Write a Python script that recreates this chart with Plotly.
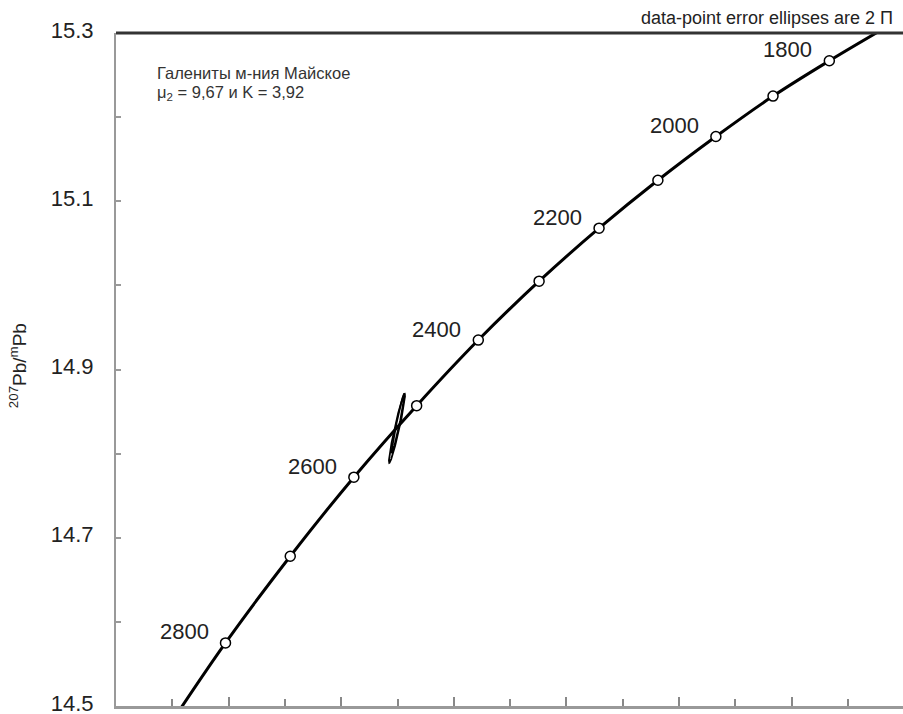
import numpy as np
import plotly.graph_objects as go

# Growth-curve nodes (model age, Ma) with 206Pb/204Pb and 207Pb/204Pb
curve_age = [1700, 1800, 1900, 2000, 2100, 2200, 2300, 2400, 2500, 2600, 2700, 2800, 2900]
curve_x = [15.731, 15.534, 15.334, 15.131, 14.925, 14.716, 14.503, 14.287, 14.068, 13.845, 13.619, 13.389, 13.156]
curve_y = [15.306, 15.267, 15.225, 15.177, 15.125, 15.068, 15.005, 14.935, 14.857, 14.772, 14.678, 14.575, 14.460]

# Tick marks on the curve (circles)
node_age = [1800, 1900, 2000, 2100, 2200, 2300, 2400, 2500, 2600, 2700, 2800]
node_x = [15.534, 15.334, 15.131, 14.925, 14.716, 14.503, 14.287, 14.068, 13.845, 13.619, 13.389]
node_y = [15.267, 15.225, 15.177, 15.125, 15.068, 15.005, 14.935, 14.857, 14.772, 14.678, 14.575]

# Labelled ages
label_age = [1800, 2000, 2200, 2400, 2600, 2800]
label_x = [15.534, 15.131, 14.716, 14.287, 13.845, 13.389]
label_y = [15.267, 15.177, 15.068, 14.935, 14.772, 14.575]

# Data-point error ellipses: centre x, centre y, sigma x, sigma y, rho
ell_cx = [13.998, 14.002]
ell_cy = [14.830, 14.836]
ell_sx = [0.0285, 0.0230]
ell_sy = [0.0410, 0.0355]
ell_rho = [0.955, 0.970]

y_ticks = [14.5, 14.7, 14.9, 15.1, 15.3]
y_ticktext = ["14.5", "14.7", "14.9", "15.1", "15.3"]

note_lines = ["Галениты м-ния Майское", "μ<sub>2</sub> = 9,67 и K = 3,92"]

FONT = "Liberation Sans, Arial, sans-serif"

fig = go.Figure()

fig.add_trace(go.Scatter(x=curve_x, y=curve_y, mode="lines",
                         line=dict(color="black", width=3, shape="spline"),
                         hoverinfo="skip", showlegend=False))

theta = np.linspace(0, 2 * np.pi, 200)
for cx, cy, sx, sy, r in zip(ell_cx, ell_cy, ell_sx, ell_sy, ell_rho):
    ex = cx + sx * np.cos(theta)
    ey = cy + sy * (r * np.cos(theta) + np.sqrt(1 - r * r) * np.sin(theta))
    fig.add_trace(go.Scatter(x=ex, y=ey, mode="lines",
                             line=dict(color="black", width=1.8),
                             hoverinfo="skip", showlegend=False))

fig.add_trace(go.Scatter(x=node_x, y=node_y, mode="markers",
                         marker=dict(size=10, color="white",
                                     line=dict(color="black", width=1.5)),
                         text=[str(a) for a in node_age],
                         showlegend=False))

for a, x, y in zip(label_age, label_x, label_y):
    fig.add_annotation(x=x, y=y, text=str(a), showarrow=False,
                       xanchor="right", yanchor="middle", xshift=-15, yshift=11,
                       font=dict(family=FONT, size=22, color="#222"))

for line, yp in zip(note_lines, [0.9406, 0.9109]):
    fig.add_annotation(xref="paper", yref="paper", x=0.0496, y=yp,
                       xanchor="left", yanchor="middle", align="left", showarrow=False,
                       text=line, font=dict(family=FONT, size=16.5, color="#333"))

fig.add_annotation(xref="paper", yref="paper", x=1, y=1, xanchor="right", yanchor="bottom",
                   xshift=-8, yshift=3, showarrow=False,
                   text="data-point error ellipses are 2 Π",
                   font=dict(family=FONT, size=18, color="#222"))

fig.add_annotation(xref="paper", yref="paper", x=0, y=0.505, xanchor="center", xshift=-98,
                   textangle=-90, showarrow=False, text="<sup>207</sup>Pb/<sup>m</sup>Pb",
                   font=dict(family=FONT, size=19, color="#222"))

fig.add_shape(type="line", xref="paper", yref="paper", x0=0, x1=1, y0=1, y1=1,
              line=dict(color="#333", width=3))

fig.update_layout(
    width=903, height=714,
    margin=dict(l=116, r=0, t=33, b=8),
    paper_bgcolor="white", plot_bgcolor="white",
    font=dict(family=FONT, color="#222"),
    xaxis=dict(range=[13.0, 15.7957], showgrid=False, zeroline=False, automargin=False,
               showline=True, linecolor="#999", linewidth=3,
               ticks="inside", tick0=13.0, dtick=0.4, ticklen=9, tickwidth=2, tickcolor="#888",
               showticklabels=False,
               minor=dict(dtick=0.2, tick0=13.0, ticks="inside", ticklen=7, tickwidth=2, tickcolor="#888")),
    yaxis=dict(range=[14.5, 15.3], showgrid=False, zeroline=False, automargin=False,
               showline=True, linecolor="#999", linewidth=2,
               ticks="inside", tickvals=y_ticks, ticktext=y_ticktext, ticklen=5, tickwidth=2,
               tickcolor="#999", tickfont=dict(size=22, color="#222"), ticklabelstandoff=16,
               ticklabeloverflow="allow", ticklabelshift=-3,
               minor=dict(dtick=0.1, tick0=14.5, ticks="inside", ticklen=5, tickwidth=2, tickcolor="#999")),
)

fig.write_html("out.html", config={"displayModeBar": False},
               post_script="document.body.style.margin='0';document.body.style.overflow='hidden';")
